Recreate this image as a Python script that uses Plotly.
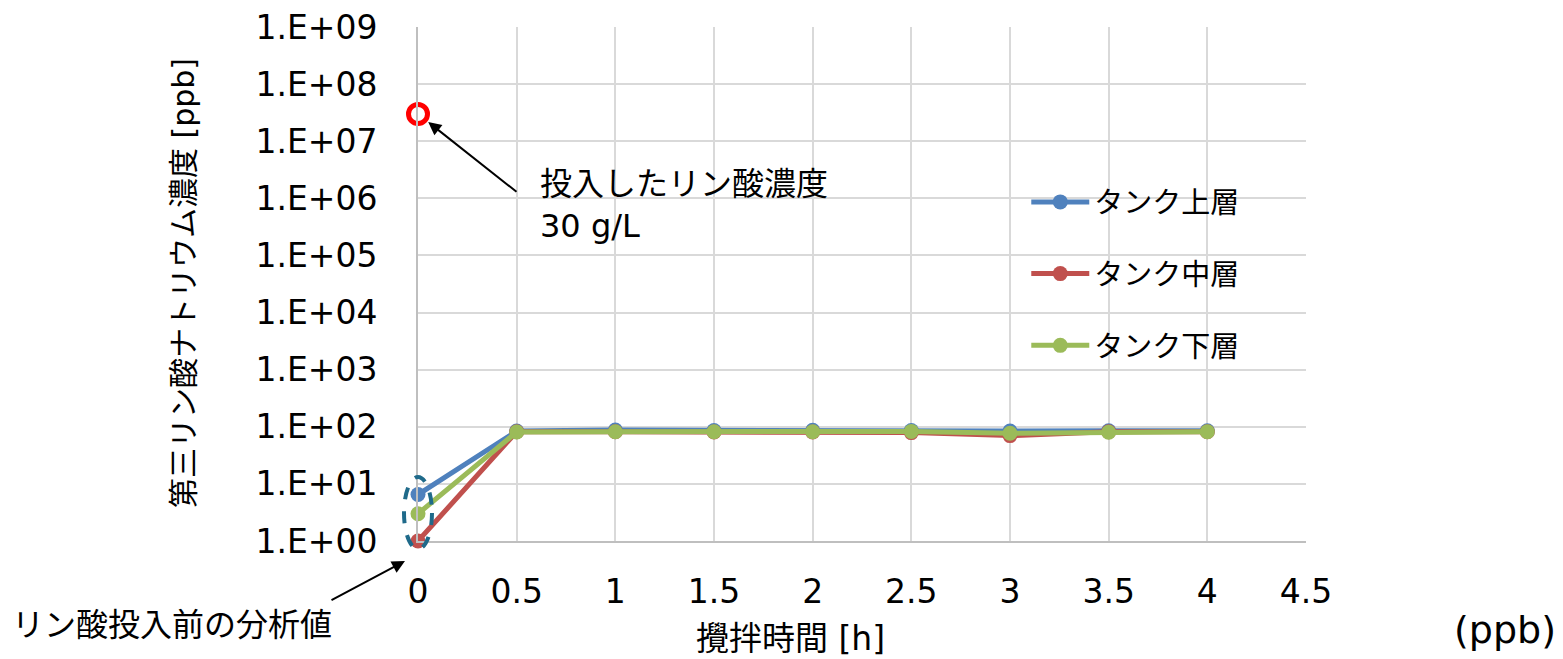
import plotly.graph_objects as go
import math

# ---- data ----
hours = [0, 0.5, 1, 1.5, 2, 2.5, 3, 3.5, 4]
upper = [6.5, 84, 88, 86, 87, 86, 84, 85, 85]
middle = [1.0, 82, 82, 81, 81, 79, 70, 82, 82]
lower = [3.0, 81, 82, 82, 82, 83, 77, 80, 82]
series_names = ["タンク上層", "タンク中層", "タンク下層"]
series_colors = ["#4F81BD", "#C0504D", "#9BBB59"]
dose_x = [0]
dose_y = [3e7]
y_tickvals = [10 ** k for k in range(0, 10)]
y_ticktext = ["1.E+%02d" % k for k in range(0, 10)]
x_tickvals = [0, 0.5, 1, 1.5, 2, 2.5, 3, 3.5, 4, 4.5]
x_ticktext = ["0", "0.5", "1", "1.5", "2", "2.5", "3", "3.5", "4", "4.5"]

FONT = "DejaVu Sans, Noto Sans CJK JP, sans-serif"

# page body has an 8px margin; compensate so the plot lands where the reference has it
OFF = 8
PL, PT, PW, PH = 418 - OFF, 27 - OFF, 888, 514
W, H = 1563 - OFF, 659 - OFF

def px(xp):  # reference page x -> paper x
    return (xp - 418) / PW

def py(yp):  # reference page y -> paper y
    return (541 - yp) / PH

fig = go.Figure()
for i, (name, vals, col) in enumerate(zip(series_names, [upper, middle, lower], series_colors)):
    fig.add_trace(go.Scatter(
        x=hours, y=vals, name=name, mode="lines+markers",
        line=dict(color=col, width=5),
        marker=dict(color=col, size=15),
        legendgroup=str(i), cliponaxis=False,
    ))

fig.add_trace(go.Scatter(
    x=dose_x, y=dose_y, mode="markers", showlegend=False,
    marker=dict(symbol="circle-open", size=19, color="#FF0000", line=dict(width=5, color="#FF0000")),
    cliponaxis=False,
))

fig.update_layout(
    width=W, height=H,
    margin=dict(l=PL, r=W - PL - PW, t=PT, b=H - PT - PH, autoexpand=False),
    plot_bgcolor="white", paper_bgcolor="white",
    font=dict(family=FONT, size=29, color="#000000"),
    legend=dict(x=0.685, y=0.709, xanchor="left", yanchor="top",
                bgcolor="rgba(0,0,0,0)", tracegroupgap=31, itemwidth=58,
                font=dict(size=29)),
)
fig.update_xaxes(
    range=[0, 4.5], tickvals=x_tickvals, ticktext=x_ticktext,
    showgrid=True, gridcolor="#D9D9D9", gridwidth=2,
    showline=True, linecolor="#BFBFBF", linewidth=2,
    tickfont=dict(size=33), ticks="", ticklabelstandoff=20,
    ticklabeloverflow="allow", zeroline=False, automargin=False,
)
fig.update_yaxes(
    type="log", range=[0, 9], tickvals=y_tickvals, ticktext=y_ticktext,
    showgrid=True, gridcolor="#D9D9D9", gridwidth=2,
    showline=True, linecolor="#BFBFBF", linewidth=2,
    tickfont=dict(size=33), ticks="", ticklabelstandoff=32,
    ticklabeloverflow="allow", automargin=False,
)

# dashed ellipse around the pre-dosing values (paper-referenced so it is not clipped)
fig.add_shape(type="circle", xref="paper", yref="paper",
              x0=px(404), x1=px(432), y0=py(549), y1=py(477),
              line=dict(color="#1F6A8A", width=4, dash="dash"))

# arrow to the dosed concentration
fig.add_annotation(x=0, y=math.log10(dose_y[0]), xref="x", yref="y",
                   text="", showarrow=True, ax=100, ay=79,
                   arrowhead=2, arrowsize=1.3, arrowwidth=2, arrowcolor="#000000",
                   standoff=13)
fig.add_annotation(x=px(538), y=py(205), xref="paper", yref="paper",
                   text="投入したリン酸濃度<br>30 g/L", showarrow=False, align="left",
                   xanchor="left", yanchor="middle", font=dict(size=32))

# arrow to the pre-dosing values
fig.add_annotation(x=px(405), y=py(561), xref="paper", yref="paper",
                   text="", showarrow=True, ax=-75, ay=40,
                   arrowhead=2, arrowsize=1.3, arrowwidth=2, arrowcolor="#000000")
fig.add_annotation(x=px(10), y=py(625), xref="paper", yref="paper",
                   text="リン酸投入前の分析値", showarrow=False,
                   xanchor="left", yanchor="middle", font=dict(size=32))

# axis titles
fig.add_annotation(x=px(790), y=py(638), xref="paper", yref="paper",
                   text="攪拌時間 [h]", showarrow=False,
                   xanchor="center", yanchor="middle", font=dict(size=33))
fig.add_annotation(x=px(183), y=py(283), xref="paper", yref="paper",
                   text="第三リン酸ナトリウム濃度 [ppb]", showarrow=False, textangle=-90,
                   xanchor="center", yanchor="middle", font=dict(size=30))
fig.add_annotation(x=px(1505), y=py(630), xref="paper", yref="paper",
                   text="(ppb)", showarrow=False,
                   xanchor="center", yanchor="middle", font=dict(size=38))

fig.write_html("out.html")
